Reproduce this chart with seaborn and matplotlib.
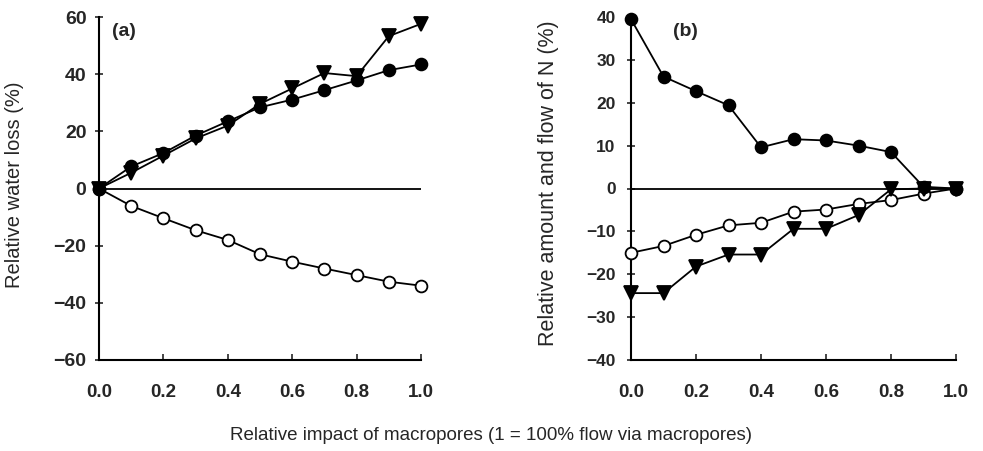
import numpy as np
import pandas as pd
import matplotlib
matplotlib.use("Agg")
import matplotlib.pyplot as plt
import seaborn as sns

sns.set_style("ticks")
plt.rcParams['font.family'] = ['Liberation Sans', 'DejaVu Sans']

x = [0.0, 0.1, 0.2, 0.3, 0.4, 0.5, 0.6, 0.7, 0.8, 0.9, 1.0]

# Panel (a): relative water loss (%)
a_filled = [0, 7.7, 12.4, 18.5, 23.5, 28.4, 31.1, 34.4, 37.8, 41.4, 43.4]
a_tri = [0, 5.5, 11.5, 17.5, 22.0, 29.6, 35.0, 40.4, 39.3, 53.3, 57.6]
a_open = [0, -6.1, -10.4, -14.6, -18.0, -23.0, -25.6, -28.0, -30.3, -32.6, -34.0]

# Panel (b): relative amount and flow of N (%)
b_filled = [39.5, 26.1, 22.7, 19.4, 9.6, 11.5, 11.2, 10.0, 8.5, 0.4, 0]
b_open = [-15.0, -13.4, -10.8, -8.6, -8.0, -5.4, -4.9, -3.6, -2.7, -1.2, 0]
b_tri = [-24.4, -24.4, -18.2, -15.4, -15.4, -9.4, -9.4, -6.2, -0.2, 0, 0]

xticks = [0.0, 0.2, 0.4, 0.6, 0.8, 1.0]
xticklabels = ["0.0", "0.2", "0.4", "0.6", "0.8", "1.0"]
a_yticks = [-60, -40, -20, 0, 20, 40, 60]
b_yticks = [-40, -30, -20, -10, 0, 10, 20, 30, 40]

fig = plt.figure(figsize=(9.83, 4.51), dpi=100)
W, H = 983, 451
ax_a = fig.add_axes([99 / W, 1 - 360 / H, 322 / W, 343 / H])
ax_b = fig.add_axes([631 / W, 1 - 360 / H, 325 / W, 343 / H])

def draw(ax, y, marker, face):
    sns.lineplot(x=x, y=y, ax=ax, color="black", lw=1.3, marker=marker,
                 markersize=8.5 if marker == "o" else 9.5,
                 markerfacecolor=face, markeredgecolor="black",
                 markeredgewidth=1.3, clip_on=False, zorder=3)

for ax in (ax_a, ax_b):
    ax.axhline(0, color="black", lw=1.3, zorder=1)

draw(ax_a, a_open, "o", "white")
draw(ax_a, a_tri, "v", "black")
draw(ax_a, a_filled, "o", "black")

draw(ax_b, b_open, "o", "white")
draw(ax_b, b_tri, "v", "black")
draw(ax_b, b_filled, "o", "black")

settings = (
    (ax_a, a_yticks, "(a)", "Relative water loss (%)", 14, 14.5, -0.232, 0.51, (124, 31), 6),
    (ax_b, b_yticks, "(b)", "Relative amount and flow of N (%)", 12.5, 15.5, -0.222, 0.516, (685, 31), 8),
)
for ax, yt, lab, ylab, ysize, lsize, ylx, lly, labpos, ypad in settings:
    ax.set_xlim(0, 1)
    ax.set_ylim(yt[0], yt[-1])
    ax.set_xticks(xticks)
    ax.set_xticklabels(xticklabels)
    ax.set_yticks(yt)
    ax.set_yticklabels([("\u2212" + str(-v)) if v < 0 else str(v) for v in yt])
    sns.despine(ax=ax)
    for s in ("left", "bottom"):
        ax.spines[s].set_linewidth(1.5)
        ax.spines[s].set_color("black")
    ax.tick_params(axis="x", direction="in", length=4, width=1.2, pad=17,
                   labelsize=13.5)
    ax.tick_params(axis="y", direction="inout", length=6, width=1.2, pad=ypad,
                   labelsize=ysize)
    for t in ax.get_xticklabels() + ax.get_yticklabels():
        t.set_fontweight("bold")
    ax.set_ylabel(ylab, fontsize=lsize)
    ax.yaxis.set_label_coords(ylx, lly)
    ax.set_xlabel("")
    fig.text(labpos[0] / W, 1 - labpos[1] / H, lab, fontsize=14,
             fontweight="bold", va="center", ha="center")

fig.text(491 / W, 1 - 436 / H, "Relative impact of macropores (1 = 100% flow via macropores)",
         ha="center", va="center", fontsize=13.5)

fig.savefig("out.png", dpi=100)
